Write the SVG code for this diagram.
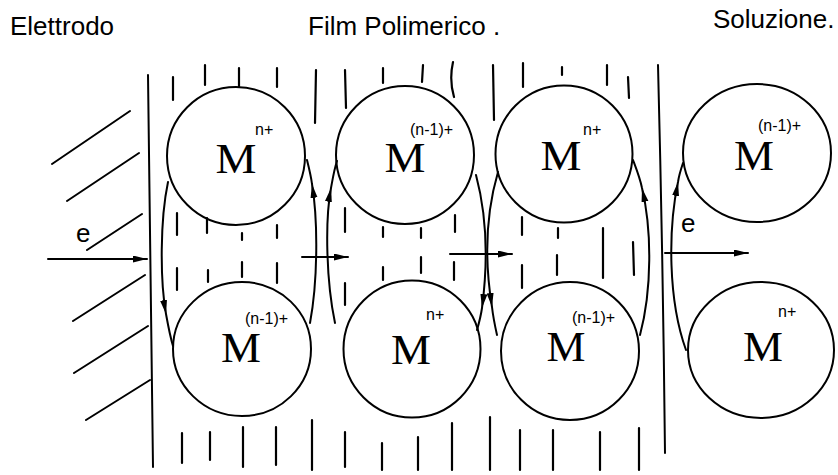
<svg xmlns="http://www.w3.org/2000/svg" width="838" height="475" viewBox="0 0 838 475">
<style>
.t{font-family:"Liberation Sans",Arial,sans-serif;font-size:26px;fill:#000}
.m{font-family:"Liberation Serif","Times New Roman",serif;font-size:42px;fill:#000;text-anchor:middle}
.s{font-family:"Liberation Sans",Arial,sans-serif;font-size:16px;fill:#000}
.c{fill:none;stroke:#000;stroke-width:2}
.l{fill:none;stroke:#000;stroke-width:2;stroke-linecap:round}
.d{fill:none;stroke:#000;stroke-width:2.2;stroke-linecap:round}
</style>
<defs>
<marker id="ah" markerUnits="userSpaceOnUse" markerWidth="16" markerHeight="9" refX="14" refY="3.5" orient="auto">
<path d="M0,0 L14,3.5 L0,7 Z" fill="#000"/>
</marker>
</defs>
<rect width="838" height="475" fill="#fff"/>
<g id="titles">
<text class="t" x="10" y="35">Elettrodo</text>
<text class="t" x="308" y="35">Film Polimerico .</text>
<text class="t" x="713" y="28">Soluzione.</text>
</g>
<g id="boundaries">
<path class="l" d="M148,75 L153,467"/>
<path class="l" d="M658,65 Q663,260 665,453"/>
</g>
<g id="electrode-hatch">
<path class="l" d="M52,164 L130,111 M67,201 L139,153 M87,250 L142,214 M73,321 L145,275 M74,373 L148,326 M86,420 L150,380"/>
</g>
<g id="film-hatch">
<path class="d" d="M173,77 L173,100 M205,65 L205,85 M239,68 L239,87 M277,68 L277,87 M316,70 L315,123 M345,70 L346,108 M383,68 L383,83 M423,65 L422,82 M453,62 Q449,80 454,97 M493,65 L494,120 M523,63 L523,87 M562,67 L562,75 M607,65 L607,85 M628,77 L629,98"/>
<path class="d" d="M177,213 L177,235 M207,218 L207,233 M242,233 L242,240 M277,225 L277,238 M345,208 L345,232 M383,227 L383,237 M421,228 L421,238 M455,215 L455,232 M522,217 L522,235 M558,228 L558,238 M603,228 L603,278 M633,242 L634,275"/>
<path class="d" d="M177,268 L177,290 M208,270 L208,282 M242,262 L242,277 M277,263 L277,283 M345,283 L345,305 M383,267 L383,280 M421,257 L421,273 M454,262 L454,280 M522,265 L522,288 M557,255 L557,275"/>
<path class="d" d="M182,433 L182,463 M210,432 L210,460 M243,427 L243,467 M276,427 L276,465 M312,420 L312,470 M345,432 L345,467 M382,443 L382,470 M418,437 L418,470 M452,423 L452,470 M490,417 L490,470 M520,430 L520,470 M553,430 L553,470 M600,432 L600,470 M639,428 L639,470"/>
</g>
<g id="n1"><circle class="c" cx="236" cy="156" r="69"/><text class="m" x="236" y="173" textLength="41" lengthAdjust="spacingAndGlyphs">M</text><text class="s" x="255" y="135">n+</text></g>
<g id="n2"><circle class="c" cx="405" cy="155" r="69"/><text class="m" x="405" y="172" textLength="41" lengthAdjust="spacingAndGlyphs">M</text><text class="s" x="410" y="135">(n-1)+</text></g>
<g id="n3"><circle class="c" cx="564" cy="154" r="68.5"/><text class="m" x="561" y="170" textLength="41" lengthAdjust="spacingAndGlyphs">M</text><text class="s" x="583" y="135">n+</text></g>
<g id="n4"><ellipse class="c" cx="757" cy="153" rx="74" ry="69"/><text class="m" x="754" y="170" textLength="40" lengthAdjust="spacingAndGlyphs">M</text><text class="s" x="758" y="131">(n-1)+</text></g>
<g id="n5"><ellipse class="c" cx="242" cy="349" rx="69" ry="67"/><text class="m" x="241" y="362" textLength="40" lengthAdjust="spacingAndGlyphs">M</text><text class="s" x="245" y="324">(n-1)+</text></g>
<g id="n6"><circle class="c" cx="412" cy="349" r="68.5"/><text class="m" x="411" y="364" textLength="40" lengthAdjust="spacingAndGlyphs">M</text><text class="s" x="426" y="320">n+</text></g>
<g id="n7"><circle class="c" cx="570" cy="351" r="69"/><text class="m" x="566" y="361" textLength="39" lengthAdjust="spacingAndGlyphs">M</text><text class="s" x="572" y="323">(n-1)+</text></g>
<g id="n8"><ellipse class="c" cx="761" cy="350" rx="73" ry="68"/><text class="m" x="763" y="361" textLength="40" lengthAdjust="spacingAndGlyphs">M</text><text class="s" x="778" y="317">n+</text></g>
<g id="connectors">
<path class="l" marker-mid="url(#ah)" d="M168,182 C160,220 160,280 166,314 C168,325 170,336 173,346"/>
<path class="l" marker-mid="url(#ah)" d="M310,323 C318,280 318,220 312,184 C311,176 309,168 307,160"/>
<path class="l" marker-mid="url(#ah)" d="M335,323 C326,280 325,220 331,188 C332.5,180 334,170 337,161"/>
<path class="l" marker-mid="url(#ah)" d="M476,175 C488,220 487,270 482,308 C481,315 479,323 477,330"/>
<path class="l" marker-mid="url(#ah)" d="M498,172 C484,220 486,270 492,307 C493,316 495,326 497,335"/>
<path class="l" marker-mid="url(#ah)" d="M640,335 C652,290 652,230 642,188 C640,178 636,168 633,160"/>
<path class="l" marker-mid="url(#ah)" d="M686,350 C668,300 668,230 678,182 C679,175 681,169 683,163"/>
<path class="l" marker-end="url(#ah)" d="M48,259 L147,259"/>
<path class="l" marker-end="url(#ah)" d="M302,257 L348,257"/>
<path class="l" marker-end="url(#ah)" d="M450,254 L512,254"/>
<path class="l" marker-end="url(#ah)" d="M665,253 L748,253"/>
<text class="t" x="76" y="242">e</text>
<text class="t" x="681" y="232">e</text>
</g>
</svg>
